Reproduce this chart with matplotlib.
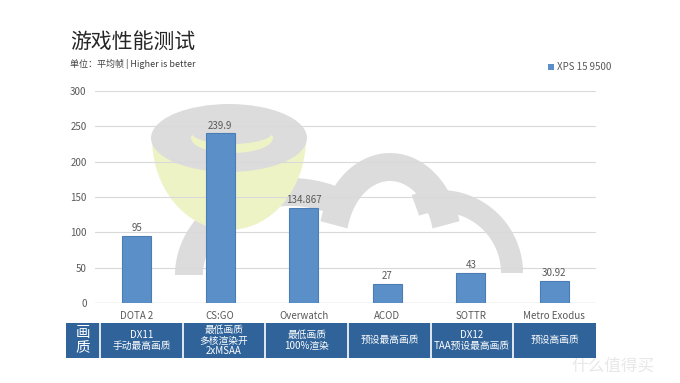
import numpy as np
import matplotlib
matplotlib.use('Agg')
import matplotlib.pyplot as plt
from matplotlib.patches import Rectangle, Ellipse, Polygon

plt.rcParams['font.family'] = ['Noto Sans CJK SC', 'DejaVu Sans']

# data
games = ['DOTA 2', 'CS:GO', 'Overwatch', 'ACOD', 'SOTTR', 'Metro Exodus']
fps = [95, 239.9, 134.867, 27, 43, 30.92]
fps_labels = ['95', '239.9', '134.867', '27', '43', '30.92']
quality = ['DX11\n手动最高画质', '最低画质\n多核渲染开\n2xMSAA', '最低画质\n100%渲染',
           '预设最高画质', 'DX12\nTAA预设最高画质', '预设高画质']
series_name = 'XPS 15 9500'
yticks = [0, 50, 100, 150, 200, 250, 300]

W, H = 680, 383
fig = plt.figure(figsize=(W / 100, H / 100), dpi=100)
fig.patch.set_facecolor('white')

def fx(px):
    return px / W

def fy(py):
    return 1 - py / H

def arc(cx, cy, rx, ry, w, t0, t1):
    # thick arc in screen pixels (y down), angles measured counter-clockwise on screen
    t = np.radians(np.linspace(t0, t1, 60))
    outer = np.c_[cx + rx * np.cos(t), cy - ry * np.sin(t)]
    inner = np.c_[cx + (rx - w) * np.cos(t[::-1]), cy - (ry - w) * np.sin(t[::-1])]
    return np.vstack([outer, inner])

# faint watermark behind the chart
grey = '#dcdcdc'
yellow = '#eef3c6'
bg = fig.add_axes([0, 0, 1, 1], zorder=0)
bg.set_xlim(0, W)
bg.set_ylim(H, 0)
bg.axis('off')
bg.add_patch(Polygon(arc(290, 275, 115, 97, 28, 58, 180), facecolor=grey, edgecolor='none'))
bg.add_patch(Polygon(arc(390, 245, 72, 92, 28, 15, 165), facecolor=grey, edgecolor='none'))
bg.add_patch(Polygon(arc(440, 273, 83, 83, 22, 0, 110), facecolor=grey, edgecolor='none'))
tb_ = np.radians(np.linspace(180, 360, 60))
bg.add_patch(Polygon(np.c_[229 + 77 * np.cos(tb_), 138 - 92 * np.sin(tb_)],
                     facecolor=yellow, edgecolor='none'))
bg.add_patch(Ellipse((229, 138), 156, 68, facecolor=grey, edgecolor='none'))
bg.add_patch(Ellipse((232, 138), 82, 30, facecolor=yellow, edgecolor='none'))
bg.add_patch(Ellipse((232, 132), 82, 24, facecolor=grey, edgecolor='none'))
bg.text(655, 366, '什么值得买', fontsize=12, color='#e8e8e8', ha='right', va='center')

# main chart
ax = fig.add_axes([fx(95), fy(303), fx(596) - fx(95), fy(91) - fy(303)], zorder=1)
ax.patch.set_alpha(0)
x = np.arange(len(games))
ax.bar(x, fps, width=0.35, color='#5b8fc7', edgecolor='#4a7db5', linewidth=0.8, zorder=3)
for xi, v, lab in zip(x, fps, fps_labels):
    ax.text(xi, v + 4, lab, ha='center', va='bottom', fontsize=7, color='#595959')
ax.set_xlim(-0.5, len(games) - 0.5)
ax.set_ylim(0, 300)
ax.set_yticks(yticks)
ax.set_yticklabels([str(t) for t in yticks], fontsize=7, color='#595959')
ax.set_xticks(x)
ax.set_xticklabels(games, fontsize=7, color='#595959')
ax.tick_params(length=0, pad=6)
ax.grid(axis='y', color='#d9d9d9', linewidth=0.8, zorder=0)
for s in ax.spines.values():
    s.set_visible(False)
ax.axhline(0, color='#d9d9d9', linewidth=1, zorder=2)

# title, subtitle, legend
fig.text(fx(70), fy(42), '游戏性能测试', fontsize=15, color='#262626', va='center')
fig.text(fx(70), fy(64), '单位：平均帧 | Higher is better', fontsize=6.5, color='#404040', va='center')
fig.patches.append(Rectangle((fx(548), fy(70)), fx(6), fy(64) - fy(70), transform=fig.transFigure,
                             facecolor='#5b8fc7', edgecolor='none'))
fig.text(fx(557), fy(67), series_name, fontsize=7, color='#595959', va='center')

# quality table under the axis
tb = fig.add_axes([fx(66), fy(358), fx(596) - fx(66), fy(323) - fy(358)], zorder=2)
tb.set_xlim(66, 596)
tb.set_ylim(358, 323)
tb.axis('off')
tb.add_patch(Rectangle((66, 323), 530, 35, facecolor='#2f6399', edgecolor='none'))
tb.text(83, 340.5, '画\n质', ha='center', va='center', fontsize=10.5, color='white', linespacing=1.1)
col_w = (596 - 100) / len(games)
tb.plot([99.5, 99.5], [323, 358], color='white', lw=1.2)
for i, q in enumerate(quality):
    x0 = 100 + i * col_w
    if i > 0:
        tb.plot([x0, x0], [323, 358], color='white', lw=1.2)
    tb.text(x0 + col_w / 2, 340.5, q, ha='center', va='center', fontsize=7, color='white',
            linespacing=1.05)

fig.savefig('out.png', dpi=100)
